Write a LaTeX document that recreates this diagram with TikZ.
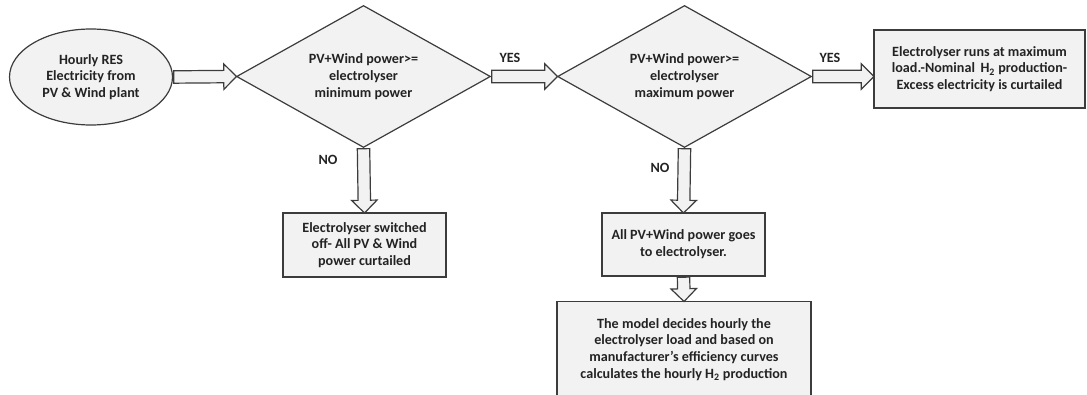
\documentclass[tikz,border=0pt]{standalone}
\usepackage{fontspec}
\setmainfont{Carlito}
\usetikzlibrary{shapes.geometric,shapes.arrows,calc}

\definecolor{boxfill}{RGB}{242,242,242}
\definecolor{boxline}{RGB}{60,60,60}
\definecolor{textgray}{RGB}{35,35,35}

% hollow block arrow from one node anchor to another
\newcommand{\blockarrow}[2]{%
  \path let \p1=(#1), \p2=(#2),
    \n1={veclen(\x2-\x1,\y2-\y1)}, \n2={atan2(\y2-\y1,\x2-\x1)} in
    node[hollowarrow, minimum height=\n1, rotate=\n2, anchor=tail] at (\p1) {};}

\begin{document}
\begin{tikzpicture}[x=0.75pt, y=-0.75pt,
  every node/.style={font=\fontsize{10.6}{12.6}\selectfont\bfseries, text=textgray},
  flowbox/.style={draw=boxline, fill=boxfill, line width=0.9pt, align=center, inner sep=0pt},
  decision/.style={diamond, aspect=1.79, draw=boxline, fill=boxfill, line width=0.9pt,
    align=center, inner sep=0pt, minimum width=190.5pt, minimum height=106.5pt},
  hollowarrow/.style={single arrow, draw=boxline, fill=boxfill, line width=0.9pt,
    inner xsep=0pt, inner ysep=4.2pt, single arrow head extend=4.9pt}]
  \useasboundingbox (0,0) rectangle (1087,395);

  % Start
  \node[ellipse, draw=boxline, fill=boxfill, line width=0.9pt, align=center, inner sep=0pt,
    minimum width=122.25pt, minimum height=72pt] (res) at (91,77)
    {Hourly RES\\Electricity from\\PV \& Wind plant};

  % Decisions
  \node[decision] (dmin) at (363.5,76.5) {PV+Wind power>=\\electrolyser\\minimum power};
  \node[decision] (dmax) at (684.5,76.5) {PV+Wind power>=\\electrolyser\\maximum power};

  % Outcomes
  \node[flowbox, minimum width=158.25pt, minimum height=58.5pt] (runmax) at (979.5,69)
    {Electrolyser runs at maximum\\load.-Nominal\, H\textsubscript{2} production-\\Excess electricity is curtailed};
  \node[flowbox, minimum width=122.25pt, minimum height=48pt] (off) at (364.5,245)
    {Electrolyser switched\\off- All PV \& Wind\\power curtailed};
  \node[flowbox, minimum width=122.25pt, minimum height=47.25pt] (all) at (683.5,244.5)
    {All PV+Wind power goes\\to electrolyser.};
  \node[flowbox, minimum width=190.5pt, minimum height=72pt] (model) at (684,349.5)
    {The model decides hourly the\\electrolyser load and based on\\manufacturer’s efficiency curves\\calculates the hourly H\textsubscript{2} production};

  % Answers
  \node (yes1) at (510,58) {YES};
  \node (yes2) at (830,58) {YES};
  \node (no1) at (328,160) {NO};
  \node (no2) at (660,168) {NO};

  % Arrows
  \blockarrow{res.east}{dmin.west}
  \blockarrow{dmin.east}{dmax.west}
  \blockarrow{dmax.east}{runmax.west |- dmax.east}
  \blockarrow{dmin.south}{off.north}
  \blockarrow{dmax.south}{all.north}
  \blockarrow{all.south}{model.north}
\end{tikzpicture}
\end{document}
